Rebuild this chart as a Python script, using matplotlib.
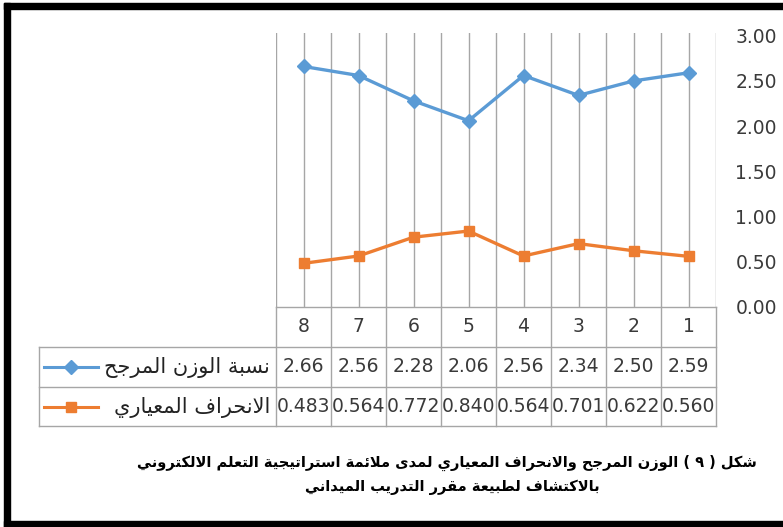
import matplotlib
matplotlib.use('Agg')
import matplotlib.pyplot as plt
from matplotlib import transforms
from matplotlib.patches import Rectangle

# data (category 1 .. 8, drawn right to left like the source)
categories = ['1', '2', '3', '4', '5', '6', '7', '8']
weighted = [2.59, 2.50, 2.34, 2.56, 2.06, 2.28, 2.56, 2.66]
std_dev = [0.560, 0.622, 0.701, 0.564, 0.840, 0.772, 0.564, 0.483]
y_ticks = [0.0, 0.5, 1.0, 1.5, 2.0, 2.5, 3.0]
series_names = ['نسبة الوزن المرجح', 'الانحراف المعياري']
caption_lines = ['شكل ( ٩ ) الوزن المرجح والانحراف المعياري لمدى ملائمة استراتيجية التعلم الالكتروني',
                 'بالاكتشاف لطبيعة مقرر التدريب الميداني']

BLUE = '#5B9BD5'
ORANGE = '#ED7D31'
GRID = '#a6a6a6'
TEXT = '#3a3a3a'

# --- tiny arabic shaper (matplotlib has no text shaping) ---
# letter -> (first presentation form, number of forms)
_forms = [('\u0621', 0xFE80, 1), ('\u0622', 0xFE81, 2), ('\u0623', 0xFE83, 2), ('\u0624', 0xFE85, 2),
          ('\u0625', 0xFE87, 2), ('\u0626', 0xFE89, 4), ('\u0627', 0xFE8D, 2), ('\u0628', 0xFE8F, 4),
          ('\u0629', 0xFE93, 2), ('\u062A', 0xFE95, 4), ('\u062B', 0xFE99, 4), ('\u062C', 0xFE9D, 4),
          ('\u062D', 0xFEA1, 4), ('\u062E', 0xFEA5, 4), ('\u062F', 0xFEA9, 2), ('\u0630', 0xFEAB, 2),
          ('\u0631', 0xFEAD, 2), ('\u0632', 0xFEAF, 2), ('\u0633', 0xFEB1, 4), ('\u0634', 0xFEB5, 4),
          ('\u0635', 0xFEB9, 4), ('\u0636', 0xFEBD, 4), ('\u0637', 0xFEC1, 4), ('\u0638', 0xFEC5, 4),
          ('\u0639', 0xFEC9, 4), ('\u063A', 0xFECD, 4), ('\u0641', 0xFED1, 4), ('\u0642', 0xFED5, 4),
          ('\u0643', 0xFED9, 4), ('\u0644', 0xFEDD, 4), ('\u0645', 0xFEE1, 4), ('\u0646', 0xFEE5, 4),
          ('\u0647', 0xFEE9, 4), ('\u0648', 0xFEED, 2), ('\u0649', 0xFEEF, 2), ('\u064A', 0xFEF1, 4)]
FORMS = {c: (s, n) for c, s, n in _forms}
LAM_ALEF = {'\u0622': 0xFEF5, '\u0623': 0xFEF7, '\u0625': 0xFEF9, '\u0627': 0xFEFB}


def shape(text):
    out = []
    i = 0
    prev_joins = False
    while i < len(text):
        c = text[i]
        if c not in FORMS:
            out.append(c)
            prev_joins = False
            i += 1
            continue
        # lam + alef ligature
        if c == '\u0644' and i + 1 < len(text) and text[i + 1] in LAM_ALEF:
            base = LAM_ALEF[text[i + 1]]
            out.append(chr(base + (1 if prev_joins else 0)))
            prev_joins = False
            i += 2
            continue
        start, n = FORMS[c]
        nxt = text[i + 1] if i + 1 < len(text) else ''
        next_joins = nxt in FORMS and FORMS[nxt][1] > 1
        if n == 4:
            if prev_joins and next_joins:
                ch = start + 3
            elif prev_joins:
                ch = start + 1
            elif next_joins:
                ch = start + 2
            else:
                ch = start
            prev_joins = True
        elif n == 2:
            ch = start + 1 if prev_joins else start
            prev_joins = False
        else:
            ch = start
            prev_joins = False
        out.append(chr(ch))
        i += 1
    # visual order: reverse and mirror brackets
    mirror = {'(': ')', ')': '('}
    return ''.join(mirror.get(ch, ch) for ch in reversed(out))


W, H = 783, 527
fig = plt.figure(figsize=(W / 100, H / 100), dpi=100)

# overlay axes in pixel coords for the table, caption and frame
tab = fig.add_axes([0, 0, 1, 1])
tab.set_xlim(0, W)
tab.set_ylim(H, 0)
tab.set_autoscale_on(False)
tab.axis('off')


def px(x0, y0, x1, y1):
    return [x0 / W, 1 - y1 / H, (x1 - x0) / W, (y1 - y0) / H]


ax = fig.add_axes(px(276, 33, 716, 307))
ax.patch.set_alpha(0)
x = list(range(len(categories)))
ax.plot(x, weighted, color=BLUE, lw=2.4, marker='D', ms=7, zorder=3)
ax.plot(x, std_dev, color=ORANGE, lw=2.4, marker='s', ms=7, zorder=3)
ax.set_xlim(len(categories) - 0.5, -0.5)
ax.set_ylim(0, 3.03)

# vertical gridlines at category centres and boundaries
for i in range(len(categories)):
    ax.axvline(i, color=GRID, lw=1, zorder=1)
    ax.axvline(i - 0.5, color=GRID, lw=1, zorder=1)
ax.axvline(len(categories) - 0.5, color=GRID, lw=1, zorder=1)
for s in ax.spines.values():
    s.set_visible(False)

ax.set_xticks([])
ax.yaxis.tick_right()
ax.set_yticks(y_ticks)
ax.set_yticklabels([f'{v:.2f}' for v in y_ticks])
ax.tick_params(axis='y', length=0, pad=14, labelsize=13.5, labelcolor=TEXT)

# data table under the plot
trans = transforms.blended_transform_factory(ax.transData, tab.transData)
rows_y = [307, 347, 387, 426]
for b in [i - 0.5 for i in range(len(categories) + 1)]:
    tab.plot([b, b], [rows_y[0], rows_y[-1]], color=GRID, lw=1, transform=trans)
tab.plot([276, 716], [rows_y[0], rows_y[0]], color=GRID, lw=1)
for yy in rows_y[1:]:
    tab.plot([39, 716], [yy, yy], color=GRID, lw=1)
tab.plot([39, 39], [rows_y[1], rows_y[-1]], color=GRID, lw=1)

for i, c in enumerate(categories):
    tab.text(i, 327, c, transform=trans, ha='center', va='center', fontsize=13.5, color=TEXT)
    tab.text(i, 367, f'{weighted[i]:.2f}', transform=trans, ha='center', va='center',
             fontsize=13.5, color=TEXT)
    tab.text(i, 407, f'{std_dev[i]:.3f}', transform=trans, ha='center', va='center',
             fontsize=13.5, color=TEXT)

# legend keys + series names
for yy, name, col, mk in [(367, series_names[0], BLUE, 'D'), (407, series_names[1], ORANGE, 's')]:
    tab.plot([44, 98], [yy, yy], color=col, lw=2.2)
    tab.plot([71], [yy], color=col, marker=mk, ms=7)
    tab.text(270, yy, shape(name), ha='right', va='center', fontsize=15,
             family='DejaVu Sans', color='#222222')

# caption
tab.text(447, 463, shape(caption_lines[0]), ha='center', va='center', fontsize=10.5,
         fontweight='bold', family='DejaVu Sans', color='black')
tab.text(452, 487, shape(caption_lines[1]), ha='center', va='center', fontsize=10.5,
         fontweight='bold', family='DejaVu Sans', color='black')

# black frame (right side is cut off in the source)
tab.add_patch(Rectangle((4, 3), W, 6, color='black'))
tab.add_patch(Rectangle((4, 3), 6, H, color='black'))
tab.add_patch(Rectangle((4, 521), W, 6, color='black'))

fig.savefig('out.png', dpi=100)
